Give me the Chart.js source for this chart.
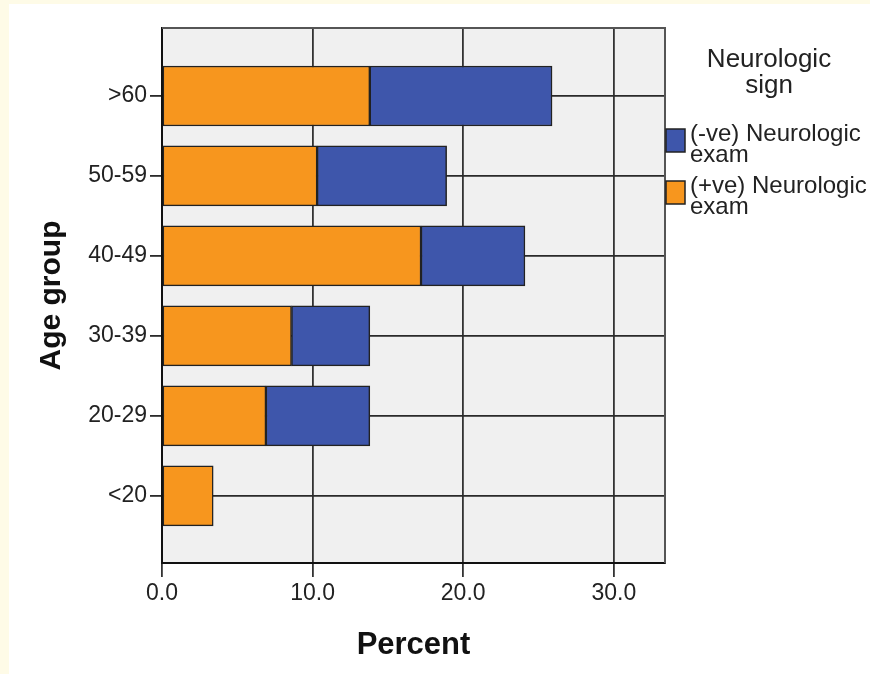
<!DOCTYPE html>
<html>
<head>
<meta charset="utf-8">
<script src="https://cdn.jsdelivr.net/npm/chart.js@4.4.1/dist/chart.umd.min.js"></script>
<style>
  html, body { margin: 0; padding: 0; background: #fefbe7; }
  #wrap { width: 870px; height: 674px; }
</style>
</head>
<body>
<div id="wrap"><canvas id="chart" width="870" height="674"></canvas></div>
<script>
// Age groups listed bottom to top (index 0 sits on the bottom row).
const ageGroups = ['<20', '20-29', '30-39', '40-49', '50-59', '>60'];
const positiveExam = [3.4, 6.9, 8.6, 17.2, 10.3, 13.8];
const negativeExam = [0, 6.9, 5.2, 6.9, 8.6, 12.1];
const percentTicks = [0, 10, 20, 30];
const legendTitle = ['Neurologic', 'sign'];

const FONT = '"Liberation Sans", Arial, sans-serif';
const ORANGE = '#f7961e';
const BLUE = '#3e56ab';

const toPoints = (values) => values.map((v, i) => ({ x: v, y: i }));

// Cream outer frame, white panel and the grey plot background.
const backgroundPlugin = {
  id: 'panelBackground',
  beforeDraw(chart) {
    const { ctx, chartArea: a } = chart;
    ctx.save();
    ctx.fillStyle = '#fefbe7';
    ctx.fillRect(0, 0, chart.width, chart.height);
    ctx.fillStyle = '#ffffff';
    ctx.fillRect(9, 4, chart.width - 9, chart.height - 4);
    ctx.fillStyle = '#f0f0f0';
    ctx.fillRect(a.left, a.top, a.right - a.left, a.bottom - a.top);
    ctx.restore();
  },
  afterDatasetsDraw(chart) {
    const { ctx, chartArea: a } = chart;
    ctx.save();
    ctx.strokeStyle = '#555';
    ctx.lineWidth = 2;
    ctx.beginPath();
    ctx.moveTo(a.left, a.top);
    ctx.lineTo(a.right, a.top);
    ctx.lineTo(a.right, a.bottom);
    ctx.stroke();
    ctx.restore();
  },
};

// SPSS style legend: centred two-line title, boxes with wrapped labels.
const legendPlugin = {
  id: 'spssLegend',
  afterDraw(chart) {
    const { ctx, chartArea: a } = chart;
    ctx.save();
    ctx.fillStyle = '#222';
    ctx.textBaseline = 'alphabetic';
    ctx.textAlign = 'center';
    ctx.font = '26px ' + FONT;
    legendTitle.forEach((line, i) => {
      ctx.fillText(line, a.right + 104, a.top + 39 + i * 26);
    });

    ctx.textAlign = 'left';
    ctx.font = '24px ' + FONT;
    const items = chart.data.datasets.slice().reverse();
    items.forEach((ds, i) => {
      const y = a.top + 101 + i * 52;
      ctx.fillStyle = ds.backgroundColor;
      ctx.fillRect(a.right + 1, y, 19, 23);
      ctx.strokeStyle = '#222';
      ctx.lineWidth = 1.5;
      ctx.strokeRect(a.right + 1, y, 19, 23);

      const words = ds.label.split(' ');
      const lines = [words.slice(0, -1).join(' '), words[words.length - 1]];
      ctx.fillStyle = '#222';
      lines.forEach((line, j) => {
        ctx.fillText(line, a.right + 25, y + 12 + j * 21);
      });
    });
    ctx.restore();
  },
};

new Chart(document.getElementById('chart'), {
  type: 'bar',
  data: {
    datasets: [
      {
        label: '(+ve) Neurologic exam',
        data: toPoints(positiveExam),
        backgroundColor: ORANGE,
      },
      {
        label: '(-ve) Neurologic exam',
        data: toPoints(negativeExam),
        backgroundColor: BLUE,
      },
    ],
  },
  options: {
    indexAxis: 'y',
    responsive: false,
    animation: false,
    layout: { padding: { top: 28, right: 205, left: 0, bottom: 0 } },
    datasets: {
      bar: {
        barThickness: 60,
        borderColor: '#222',
        borderWidth: 1.5,
        borderSkipped: false,
      },
    },
    plugins: {
      legend: { display: false },
      tooltip: { enabled: false },
    },
    scales: {
      x: {
        type: 'linear',
        stacked: true,
        min: 0,
        max: 33.4,
        afterBuildTicks: (scale) => {
          scale.ticks = percentTicks.map((v) => ({ value: v }));
        },
        afterFit: (scale) => { scale.height = 111; },
        ticks: {
          color: '#222',
          padding: 3,
          font: { family: FONT, size: 23 },
          callback: (v) => Number(v).toFixed(1),
        },
        grid: { color: '#333', lineWidth: 1.8, tickLength: 14 },
        border: { color: '#111', width: 2 },
        title: {
          display: true,
          text: 'Percent',
          color: '#111',
          font: { family: FONT, size: 31, weight: 'bold' },
          padding: { top: 0, bottom: 10 },
        },
      },
      y: {
        type: 'linear',
        stacked: true,
        offset: false,
        min: -0.84,
        max: 5.85,
        afterBuildTicks: (scale) => {
          scale.ticks = ageGroups.map((_, i) => ({ value: i }));
        },
        afterFit: (scale) => { scale.width = 162; },
        ticks: {
          color: '#222',
          padding: 3,
          font: { family: FONT, size: 23 },
          callback: (v) => ageGroups[v],
        },
        grid: { offset: false, color: '#2a2a2a', lineWidth: 1.8, tickLength: 12 },
        border: { color: '#111', width: 2 },
        title: {
          display: true,
          text: 'Age group',
          color: '#111',
          font: { family: FONT, size: 30, weight: 'bold' },
          padding: { top: 34, bottom: 0 },
        },
      },
    },
  },
  plugins: [backgroundPlugin, legendPlugin],
});
</script>
</body>
</html>
